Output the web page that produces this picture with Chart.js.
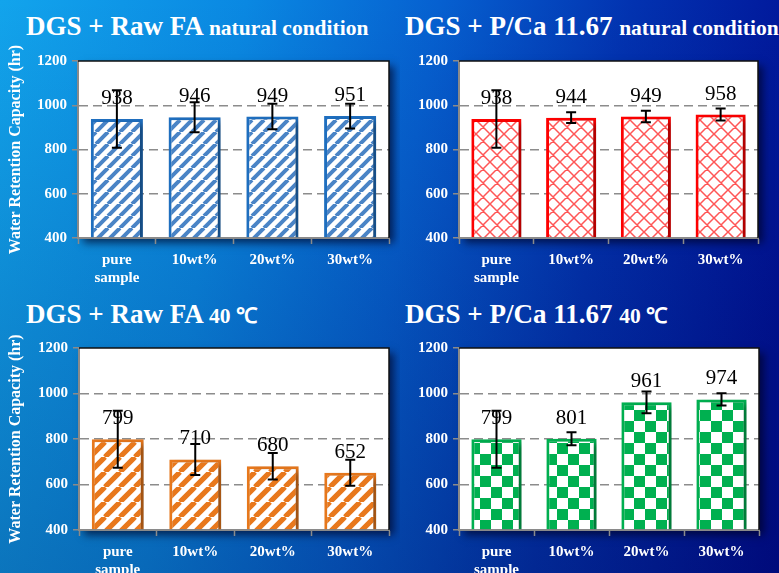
<!DOCTYPE html>
<html>
<head>
<meta charset="utf-8">
<script src="https://cdn.jsdelivr.net/npm/chart.js@4"></script>
<style>
html, body { margin: 0; padding: 0; }
body {
    width: 779px; height: 573px; overflow: hidden; position: relative;
    background:
        linear-gradient(to bottom, rgba(0,0,0,0) 0%, rgba(0,10,60,0.25) 100%),
        linear-gradient(100deg, #12a4ec 0%, #0a88e2 28%, #0660d0 50%, #0232b0 72%, #000a90 100%);
    font-family: "Times New Roman", "Liberation Serif", serif;
}
.title { position: absolute; color: #fff; font-weight: bold; font-size: 27px; white-space: nowrap; line-height: 1; }
.title span { font-size: 21.5px; }
canvas { position: absolute; }
</style>
</head>
<body>
<div class="title" style="left:26px; top:13px;">DGS + Raw FA <span>natural condition</span></div>
<div class="title" style="left:405px; top:13px;">DGS + P/Ca 11.67 <span>natural condition</span></div>
<div class="title" style="left:26px; top:301px;">DGS + Raw FA <span>40 ℃</span></div>
<div class="title" style="left:405px; top:301px;">DGS + P/Ca 11.67 <span>40 ℃</span></div>

<canvas id="RawFaNaturalChart" width="400" height="254" style="left:0px; top:36px;"></canvas>
<canvas id="PcaNaturalChart" width="387" height="254" style="left:392px; top:36px;"></canvas>
<canvas id="RawFa40Chart" width="400" height="251" style="left:0px; top:322px;"></canvas>
<canvas id="Pca40Chart" width="387" height="251" style="left:392px; top:322px;"></canvas>

<script>
const categories = [['pure', 'sample'], '10wt%', '20wt%', '30wt%'];

const rawFaNatural = [938, 946, 949, 951];
const rawFaNaturalErr = [130, 68, 58, 56];

const pcaNatural = [938, 944, 949, 958];
const pcaNaturalErr = [130, 24, 26, 27];

const rawFa40 = [799, 710, 680, 652];
const rawFa40Err = [125, 68, 58, 57];

const pca40 = [799, 801, 961, 974];
const pca40Err = [125, 29, 48, 27];

const yTitle = 'Water Retention Capacity (hr)';
const yMin = 400;
const yMax = 1200;
const yStep = 200;
const dashedLines = [600, 800, 1000];

const SERIF = '"Times New Roman", "Liberation Serif", serif';
Chart.defaults.font.family = SERIF;

// --- fill patterns ---
function tile(size) {
    const c = document.createElement('canvas');
    c.width = size;
    c.height = size;
    const g = c.getContext('2d');
    g.fillStyle = '#fff';
    g.fillRect(0, 0, size, size);
    return [c, g];
}

function stripes(color, size, width) {
    const [c, g] = tile(size);
    g.strokeStyle = color;
    g.lineWidth = width;
    g.beginPath();
    for (const k of [-size, 0, size]) {
        g.moveTo(k, size);
        g.lineTo(k + size, 0);
    }
    g.stroke();
    return g.createPattern(c, 'repeat');
}

function lattice(color, size, width) {
    const [c, g] = tile(size);
    g.strokeStyle = color;
    g.lineWidth = width;
    g.beginPath();
    for (const k of [-size, 0, size]) {
        g.moveTo(k, size);
        g.lineTo(k + size, 0);
        g.moveTo(k, 0);
        g.lineTo(k + size, size);
    }
    g.stroke();
    return g.createPattern(c, 'repeat');
}

function checker(color, cell) {
    const [c, g] = tile(cell * 2);
    g.fillStyle = color;
    g.fillRect(0, 0, cell, cell);
    g.fillRect(cell, cell, cell, cell);
    return g.createPattern(c, 'repeat');
}

// --- shadows, frame, error bars and value labels ---
const decorPlugin = {
    id: 'decor',
    beforeDraw(chart) {
        const ctx = chart.ctx;
        const a = chart.chartArea;
        ctx.save();
        ctx.shadowColor = 'rgba(0,0,30,0.65)';
        ctx.shadowBlur = 8;
        ctx.shadowOffsetX = 5;
        ctx.shadowOffsetY = 5;
        ctx.fillStyle = '#fff';
        ctx.fillRect(a.left, a.top, a.right - a.left, a.bottom - a.top);
        ctx.restore();
    },
    beforeDatasetsDraw(chart) {
        const ctx = chart.ctx;
        ctx.save();
        ctx.shadowColor = 'rgba(0,0,0,0.35)';
        ctx.shadowBlur = 6;
        ctx.shadowOffsetX = 5;
        ctx.shadowOffsetY = 3;
    },
    afterDatasetsDraw(chart) {
        const ctx = chart.ctx;
        ctx.restore();
        const a = chart.chartArea;
        const y = chart.scales.y;

        ctx.save();
        ctx.strokeStyle = '#111';
        ctx.lineWidth = 1.5;
        ctx.beginPath();
        ctx.moveTo(a.left, a.top);
        ctx.lineTo(a.right, a.top);
        ctx.lineTo(a.right, a.bottom);
        ctx.stroke();

        const ds = chart.data.datasets[0];
        const meta = chart.getDatasetMeta(0);
        meta.data.forEach((bar, i) => {
            const v = ds.data[i];
            ctx.fillStyle = '#000';
            ctx.font = '21px ' + SERIF;
            ctx.textAlign = 'center';
            ctx.textBaseline = 'alphabetic';
            ctx.fillText(String(v), bar.x, bar.y - 15);

            const top = y.getPixelForValue(v + ds.errors[i]);
            const bot = y.getPixelForValue(v - ds.errors[i]);
            ctx.strokeStyle = '#000';
            ctx.lineWidth = 2;
            ctx.beginPath();
            ctx.moveTo(bar.x, top);
            ctx.lineTo(bar.x, bot);
            ctx.moveTo(bar.x - 5, top);
            ctx.lineTo(bar.x + 5, top);
            ctx.moveTo(bar.x - 5, bot);
            ctx.lineTo(bar.x + 5, bot);
            ctx.stroke();
        });
        ctx.restore();
    }
};

function plot_panel(canvas_id, values, errors, fill, border, show_title, axis_width, pad_top, pad_right, x_height) {
    const ctx = document.getElementById(canvas_id).getContext('2d');
    return new Chart(ctx, {
        type: 'bar',
        data: {
            labels: categories,
            datasets: [
                {
                    data: values,
                    errors: errors,
                    base: yMin,
                    backgroundColor: fill,
                    borderColor: border,
                    borderWidth: 3,
                    barPercentage: 0.67,
                    categoryPercentage: 1
                }
            ]
        },
        options: {
            responsive: false,
            animation: false,
            layout: { padding: { top: pad_top, right: pad_right, left: 0, bottom: 0 } },
            plugins: { legend: { display: false }, tooltip: { enabled: false } },
            scales: {
                x: {
                    afterFit: s => { s.height = x_height; s.paddingLeft = 0; s.paddingRight = 0; },
                    grid: { drawOnChartArea: false, drawTicks: true, tickLength: 6, color: '#8a8a8a', tickWidth: 1.5 },
                    border: { color: '#8a8a8a', width: 2 },
                    ticks: { color: '#fff', font: { size: 15, weight: 'bold' }, padding: 7, maxRotation: 0 }
                },
                y: {
                    min: yMin,
                    max: yMax,
                    afterFit: s => { s.width = axis_width; s.paddingTop = 0; s.paddingBottom = 0; },
                    grid: {
                        color: c => (c.tick && dashedLines.includes(c.tick.value)) ? '#8c8c8c' : 'rgba(0,0,0,0)',
                        lineWidth: 1.5,
                        tickColor: '#8a8a8a',
                        tickLength: 6,
                        tickWidth: 1.5
                    },
                    border: { color: '#8a8a8a', width: 2, dash: [9, 5] },
                    ticks: {
                        stepSize: yStep,
                        color: '#fff',
                        font: { size: 15, weight: 'bold' },
                        padding: 5,
                        callback: v => String(v)
                    },
                    title: {
                        display: show_title,
                        text: yTitle,
                        color: '#fff',
                        font: { size: 16, weight: 'bold' },
                        padding: { top: 6, bottom: 0 }
                    }
                }
            }
        },
        plugins: [decorPlugin]
    });
}

plot_panel('RawFaNaturalChart', rawFaNatural, rawFaNaturalErr, stripes('#4a84c6', 12, 4), '#1f6fc0', true, 78, 25, 11, 52);
plot_panel('PcaNaturalChart', pcaNatural, pcaNaturalErr, lattice('rgba(255,30,30,0.75)', 14, 1.5), '#ff0000', false, 67, 25, 21, 52);
plot_panel('RawFa40Chart', rawFa40, rawFa40Err, stripes('#e8781c', 15, 5.2), '#e8781c', true, 79, 26, 11, 43);
plot_panel('Pca40Chart', pca40, pca40Err, checker('#00b050', 11), '#00b050', false, 67, 26, 20, 43);
</script>
</body>
</html>
